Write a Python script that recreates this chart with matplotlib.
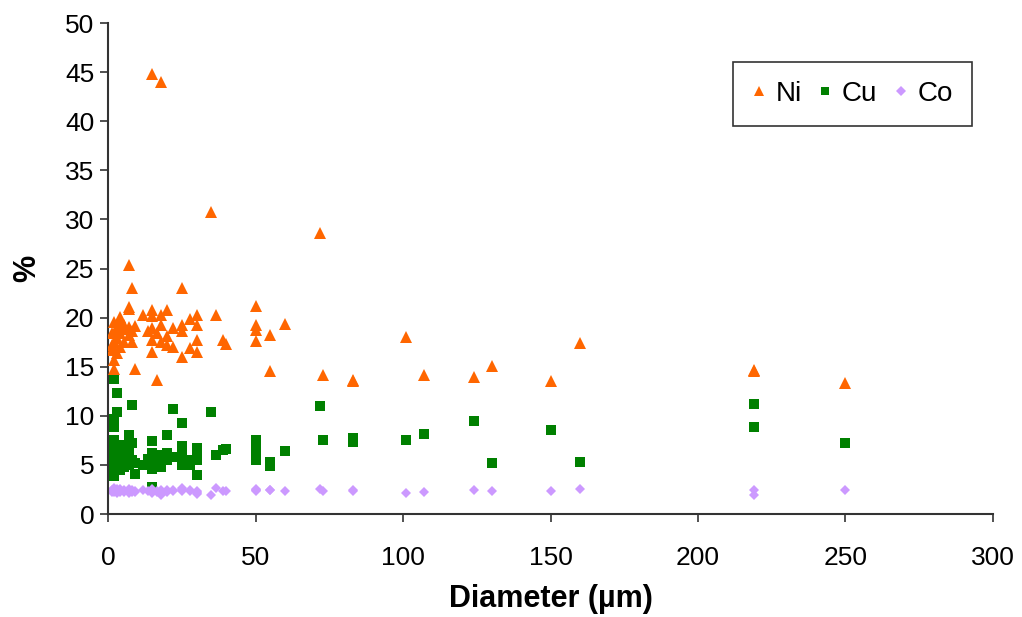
import matplotlib
matplotlib.use("Agg")
import matplotlib.pyplot as plt
import numpy as np

plt.rcParams['font.family'] = ['Liberation Sans', 'DejaVu Sans']

# Particle diameter (µm) and composition (%) of each analysed particle
diameter = [
    250, 219, 219, 160, 150, 130, 124, 107, 101, 83, 83, 73, 72, 60, 55, 55,
    50, 50, 50, 50, 40, 39, 36.5, 35,
    30, 30, 30, 30, 27.7, 27.7, 25, 25, 25, 25, 22, 22, 20, 20, 20,
    18, 18, 18, 18, 16.7, 16.7, 15, 15, 15, 15, 15, 15, 13.5, 12,
    9, 9, 8, 8, 8, 7.2, 7.2, 7.2, 7.2, 7.2, 5.5, 5.5, 5.5,
    4, 4, 4, 4, 3, 3, 3, 2, 2, 2, 2, 2, 2, 1.5, 1.5, 1.5,
]
ni = [
    13.3, 14.6, 14.7, 17.4, 13.5, 15.1, 14.0, 14.2, 18.0, 13.6, 13.5, 14.2, 28.6, 19.4, 18.2, 14.6,
    21.2, 19.2, 18.7, 17.6, 17.3, 17.7, 20.3, 30.8,
    20.3, 19.2, 17.7, 16.5, 19.9, 16.9, 23.0, 19.2, 18.6, 16.0, 18.9, 17.0, 20.8, 17.2, 18.1,
    44.0, 19.2, 20.3, 17.5, 13.6, 18.4, 44.8, 20.8, 20.2, 18.9, 16.5, 17.7, 18.6, 20.3,
    19.1, 14.8, 23.0, 17.5, 18.6, 25.4, 20.9, 21.1, 18.2, 19.0, 19.2, 17.5, 18.8,
    20.1, 18.4, 19.5, 17.0, 16.4, 18.8, 17.9, 19.6, 17.5, 14.8, 18.4, 15.7, 16.7, 16.7, 18.4, 17.2,
]
cu = [
    7.2, 11.2, 8.9, 5.3, 8.6, 5.2, 9.5, 8.1, 7.5, 7.3, 7.7, 7.5, 11.0, 6.4, 4.9, 5.3,
    7.5, 6.5, 5.5, 5.8, 6.6, 6.5, 6.0, 10.4,
    6.7, 5.8, 4.0, 5.5, 5.0, 5.5, 9.3, 6.9, 5.0, 6.0, 10.7, 5.8, 8.0, 5.5, 6.2,
    5.2, 6.0, 4.8, 5.7, 5.0, 6.0, 7.4, 5.5, 4.6, 5.8, 2.8, 6.2, 5.6, 5.0,
    4.1, 5.2, 11.1, 7.2, 5.5, 8.0, 6.0, 5.0, 7.0, 5.8, 5.5, 6.2, 4.8,
    6.0, 5.2, 4.5, 7.0, 12.3, 10.4, 5.5, 13.8, 9.7, 3.9, 7.5, 8.9, 5.0, 6.5, 4.5, 5.8,
]
co = [
    2.4, 2.45, 1.95, 2.55, 2.3, 2.3, 2.4, 2.2, 2.1, 2.3, 2.4, 2.3, 2.5, 2.3, 2.4, 2.4,
    2.4, 2.3, 2.5, 2.4, 2.3, 2.3, 2.6, 1.9,
    2.2, 2.0, 2.3, 2.1, 2.4, 2.3, 2.4, 2.5, 2.3, 2.6, 2.3, 2.4, 2.2, 2.3, 2.4,
    2.1, 1.9, 2.3, 2.4, 2.2, 2.3, 2.4, 2.2, 2.5, 2.3, 2.1, 2.4, 2.3, 2.4,
    2.3, 2.2, 2.4, 2.2, 2.3, 2.3, 2.4, 2.2, 2.5, 2.1, 2.3, 2.4, 2.2,
    2.4, 2.2, 2.5, 2.3, 2.3, 2.5, 2.1, 2.5, 2.3, 2.4, 2.2, 2.6, 2.3, 2.4, 2.3, 2.2,
]

fig = plt.figure(figsize=(10.22, 6.17), dpi=100)
ax = fig.add_axes([0.1057, 0.1669, 0.8659, 0.7958])

ax.plot(diameter, ni, linestyle='none', marker='^', color='#FF6600',
        markersize=8, markeredgewidth=0, label='Ni', zorder=3)
ax.plot(diameter, cu, linestyle='none', marker='s', color='#008000',
        markersize=6.5, markeredgewidth=0, label='Cu', zorder=2)
ax.plot(diameter, co, linestyle='none', marker='D', color='#CC99FF',
        markersize=5.5, markeredgewidth=0, label='Co', zorder=2)

ax.set_xlim(0, 300)
ax.set_ylim(0, 50)
ax.set_xticks(np.arange(0, 301, 50))
ax.set_yticks(np.arange(0, 51, 5))
ax.spines['top'].set_visible(False)
ax.spines['right'].set_visible(False)
for s in ('left', 'bottom'):
    ax.spines[s].set_linewidth(1.5)
    ax.spines[s].set_color('#333333')
ax.tick_params(axis='both', direction='out', length=6, width=1.2,
               labelsize=19, colors='#333333', labelcolor='black')
ax.tick_params(axis='x', pad=17)
ax.tick_params(axis='y', pad=4)

ax.set_xlabel('Diameter (µm)', fontsize=22, fontweight='bold', labelpad=10)
ax.set_ylabel('%', fontsize=22, fontweight='bold', labelpad=16)

leg = ax.legend(loc='upper right', bbox_to_anchor=(0.9763, 0.9206), ncol=3,
                fontsize=20, frameon=True, fancybox=False, edgecolor='black',
                handlelength=0.5, handletextpad=0.35, columnspacing=0.6,
                borderpad=0.68, markerscale=0.85, borderaxespad=0)
leg.get_frame().set_linewidth(1.2)

fig.savefig('out.png', dpi=100, facecolor='white')
